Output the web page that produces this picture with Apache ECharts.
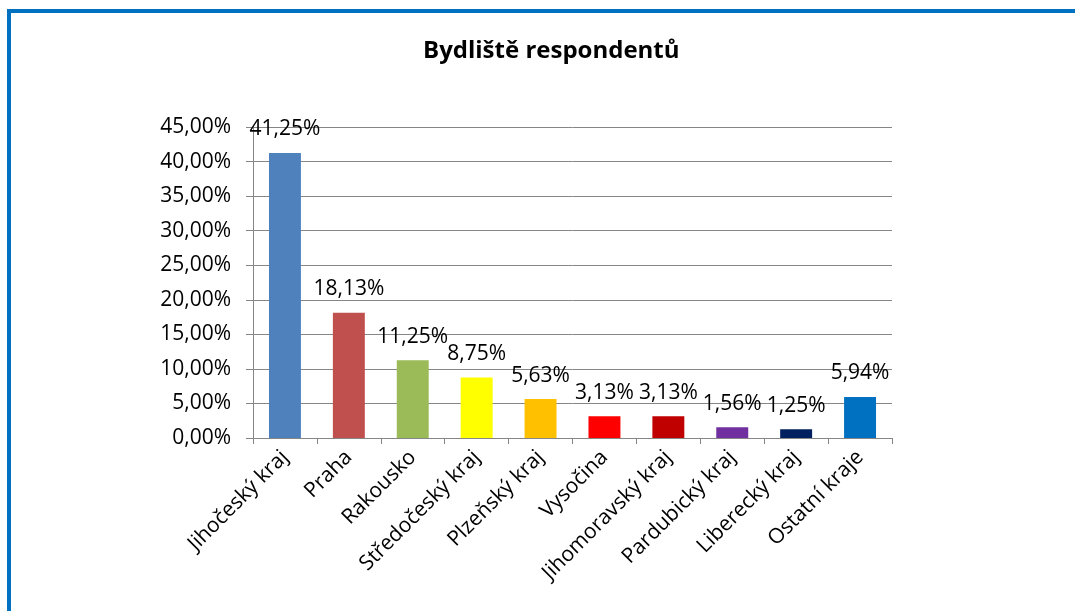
<!DOCTYPE html>
<html>
<head>
<meta charset="utf-8">
<script src="https://cdn.jsdelivr.net/npm/echarts@6/dist/echarts.min.js"></script>
<style>
  html, body { margin: 0; padding: 0; background: #fff; }
  #chart { width: 1075px; height: 611px; }
</style>
</head>
<body>
<div id="chart"></div>
<script>
// bydliště respondentů – podíly v %
const categories = ['Jihočeský kraj', 'Praha', 'Rakousko', 'Středočeský kraj', 'Plzeňský kraj',
  'Vysočina', 'Jihomoravský kraj', 'Pardubický kraj', 'Liberecký kraj', 'Ostatní kraje'];
const values = [41.25, 18.13, 11.25, 8.75, 5.63, 3.13, 3.13, 1.56, 1.25, 5.94];
const barColors = ['#4F81BD', '#C0504D', '#9BBB59', '#FFFF00', '#FFC000',
  '#FF0000', '#C00000', '#7030A0', '#002060', '#0070C0'];

const fmt = v => v.toFixed(2).replace('.', ',') + '%';
const font = 'Open Sans';

const chart = echarts.init(document.getElementById('chart'));
chart.setOption({
  animation: false,
  graphic: [{
    type: 'rect',
    shape: { x: 9, y: 11, width: 1080, height: 620 },
    style: { fill: 'none', stroke: '#0070C0', lineWidth: 4 }
  }],
  title: {
    text: 'Bydliště respondentů',
    left: 418,
    top: 34,
    textStyle: { fontFamily: font, fontSize: 24, fontWeight: 'bold', color: '#000' }
  },
  grid: { left: 253, right: 183, top: 127, bottom: 173 },
  xAxis: {
    type: 'category',
    data: categories,
    axisLine: { lineStyle: { color: '#868686' } },
    axisTick: { show: true, length: 6, lineStyle: { color: '#868686' } },
    axisLabel: { rotate: 45, interval: 0, margin: 16, fontFamily: font, fontSize: 21, color: '#000' }
  },
  yAxis: {
    type: 'value',
    min: 0, max: 45, interval: 5,
    axisLine: { show: true, lineStyle: { color: '#868686' } },
    axisTick: { show: true, length: 7, lineStyle: { color: '#868686' } },
    splitLine: { lineStyle: { color: '#868686' } },
    axisLabel: { margin: 22, fontFamily: font, fontSize: 21, color: '#000', formatter: fmt }
  },
  series: [{
    type: 'bar',
    barWidth: '50%',
    data: values.map((v, i) => ({ value: v, itemStyle: { color: barColors[i] } })),
    label: {
      show: true,
      position: 'top',
      distance: 13,
      fontFamily: font,
      fontSize: 21,
      color: '#000',
      formatter: p => fmt(p.value)
    }
  }]
});
</script>
</body>
</html>
